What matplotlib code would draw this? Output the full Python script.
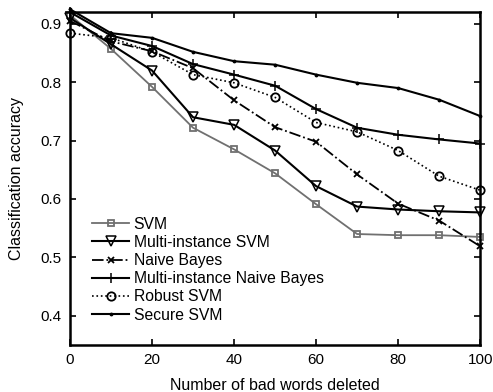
import numpy as np
import matplotlib.pyplot as plt

plt.rcParams['font.family'] = ['Liberation Sans', 'DejaVu Sans']

# Data
words_deleted = [0, 10, 20, 30, 40, 50, 60, 70, 80, 90, 100]
svm = [0.915, 0.857, 0.792, 0.722, 0.685, 0.644, 0.591, 0.540, 0.538, 0.538, 0.535]
mi_svm = [0.910, 0.865, 0.820, 0.740, 0.727, 0.683, 0.622, 0.587, 0.582, 0.579, 0.577]
naive_bayes = [0.905, 0.870, 0.853, 0.824, 0.769, 0.723, 0.698, 0.642, 0.592, 0.563, 0.519]
mi_naive_bayes = [0.920, 0.880, 0.862, 0.831, 0.813, 0.794, 0.754, 0.722, 0.710, 0.702, 0.695]
robust_svm = [0.884, 0.876, 0.852, 0.813, 0.799, 0.774, 0.731, 0.715, 0.683, 0.639, 0.615]
secure_svm = [0.925, 0.884, 0.876, 0.852, 0.836, 0.830, 0.813, 0.799, 0.790, 0.770, 0.742]

fig = plt.figure(figsize=(4.93, 3.92), dpi=100)
ax = fig.add_axes([0.142, 0.120, 0.832, 0.849])

ax.plot(words_deleted, svm, color='#707070', marker='s', markersize=5,
        markerfacecolor='none', markeredgewidth=1.3, linewidth=1.3, label='SVM', clip_on=False)
ax.plot(words_deleted, mi_svm, color='black', marker='v', markersize=6.5,
        markerfacecolor='none', markeredgewidth=1.1, linewidth=1.5, label='Multi-instance SVM', clip_on=False)
ax.plot(words_deleted, naive_bayes, color='black', marker='x', markersize=4.5,
        markeredgewidth=1.3, linewidth=1.3, linestyle='-.', label='Naive Bayes', clip_on=False)
ax.plot(words_deleted, mi_naive_bayes, color='black', marker='+', markersize=7,
        markeredgewidth=1.1, linewidth=1.5, label='Multi-instance Naive Bayes', clip_on=False)
ax.plot(words_deleted, robust_svm, color='black', marker='o', markersize=6,
        markerfacecolor='none', markeredgewidth=1.3, linewidth=1.2, linestyle=':', label='Robust SVM', clip_on=False)
ax.plot(words_deleted, secure_svm, color='black', marker='.', markersize=3.5,
        linewidth=1.5, label='Secure SVM', clip_on=False)

ax.set_xlim(0, 100)
ax.set_ylim(0.35, 0.92)
ax.set_xticks([0, 20, 40, 60, 80, 100])
ax.set_yticks([0.4, 0.5, 0.6, 0.7, 0.8, 0.9])
ax.set_yticklabels(['0.4', '0.5', '0.6', '0.7', '0.8', '0.9'])
ax.tick_params(direction='in', top=True, right=True, length=4, width=1.2, labelsize=11, pad=6)
for s in ax.spines.values():
    s.set_linewidth(1.8)

ax.set_xlabel('Number of bad words deleted', fontsize=11.5, labelpad=8)
ax.set_ylabel('Classification accuracy', fontsize=11.5, labelpad=12)

ax.legend(loc='upper left', bbox_to_anchor=(0.054, 0.385), frameon=False, fontsize=11.3,
          handlelength=2.35, handletextpad=0.3, labelspacing=0.2, borderpad=0, borderaxespad=0)

fig.savefig('out.png', dpi=100)
